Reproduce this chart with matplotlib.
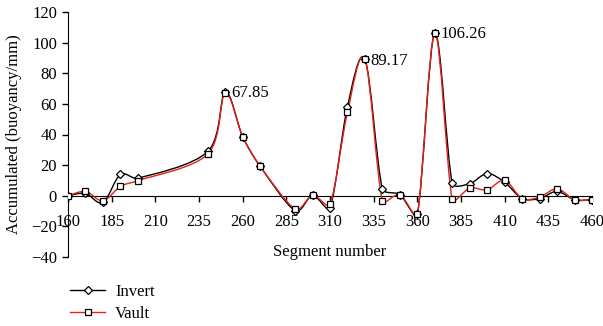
# Accumulated buoyancy per segment, invert vs vault
import numpy as np
import matplotlib
matplotlib.use('Agg')
import matplotlib.pyplot as plt
from matplotlib.path import Path
from matplotlib.patches import PathPatch

segments = [160, 170, 180, 190, 200, 240, 250, 260, 270, 290, 300, 310, 320, 330,
            340, 350, 360, 370, 380, 390, 400, 410, 420, 430, 440, 450, 460]
invert = [0, 1.5, -4.4, 13.9, 11.5, 28.9, 67.85, 38.6, 19.3, -9.7, 0.2, -7.7, 58.1,
          89.17, 4.6, 0.7, -11.8, 106.26, 8.3, 7.9, 14.5, 8.8, -1.8, -1.8, 2.8, -2.6, -2.6]
vault = [0, 2.8, -3.3, 6.1, 9.8, 27.2, 67.0, 38.6, 19.3, -8.6, 0.2, -5.5, 54.4,
         89.17, -3.3, 0.7, -11.8, 106.26, -2.2, 5.0, 3.9, 10.1, -1.8, -0.9, 4.6, -2.6, -2.6]
peak_labels = {250: '67.85', 330: '89.17', 370: '106.26'}
xticks = [160, 185, 210, 235, 260, 285, 310, 335, 360, 385, 410, 435, 460]
yticks = [-40, -20, 0, 20, 40, 60, 80, 100, 120]

plt.rcParams['font.family'] = ['Liberation Serif', 'DejaVu Serif']
plt.rcParams['font.size'] = 12
plt.rcParams['axes.unicode_minus'] = True

# pixels per data unit, used so the smoothing behaves like it does on screen
SX, SY = 524 / 300, 245 / 160


def smooth_path(x, y, k=0.35):
    # excel-like smoothed line: catmull-rom tangents, arms clamped to the segment length
    p = np.column_stack([np.asarray(x) * SX, np.asarray(y) * SY]).astype(float)
    n = len(p)
    tang = [(p[min(i + 1, n - 1)] - p[max(i - 1, 0)]) / 6 for i in range(n)]

    def arm(t, seg):
        L = np.hypot(*t)
        return t if L <= k * seg else t * (k * seg / L)

    verts = [p[0]]
    codes = [Path.MOVETO]
    for i in range(n - 1):
        seg = np.hypot(*(p[i + 1] - p[i]))
        verts += [p[i] + arm(tang[i], seg), p[i + 1] - arm(tang[i + 1], seg), p[i + 1]]
        codes += [Path.CURVE4] * 3
    verts = np.array(verts) / [SX, SY]
    return Path(verts, codes)


fig = plt.figure(figsize=(6.03, 3.26), dpi=100)
ax = fig.add_axes([68 / 603, 1 - 257 / 326, 524 / 603, 245 / 326])

red = '#e3201b'
ax.add_patch(PathPatch(smooth_path(segments, invert), fc='none', ec='black', lw=1.0, zorder=2))
ax.add_patch(PathPatch(smooth_path(segments, vault), fc='none', ec=red, lw=1.0, zorder=3))
ax.plot(segments, invert, ls='none', marker='D', ms=4.5, mfc='white', mec='black', mew=0.9, zorder=4)
ax.plot(segments, vault, ls='none', marker='s', ms=4, mfc='white', mec='black', mew=0.9, zorder=5)

for sx, txt in peak_labels.items():
    sy = invert[segments.index(sx)]
    ax.annotate(txt, (sx, sy), xytext=(4, -1), textcoords='offset points',
                ha='left', va='center', fontsize=12)

ax.set_xlim(160, 460)
ax.set_ylim(-40, 120)
ax.set_xticks(xticks)
ax.set_yticks(yticks)
ax.spines['top'].set_visible(False)
ax.spines['right'].set_visible(False)
ax.spines['bottom'].set_position(('data', 0))
ax.tick_params(axis='x', direction='out', length=4, pad=9, width=1)
ax.tick_params(axis='y', direction='out', length=4, pad=4, width=1)

ax.set_ylabel('Accumulated (buoyancy/mm)')
ax.yaxis.set_label_coords(-0.088, 0.5)
ax.set_xlabel('Segment number')
ax.xaxis.set_label_coords(0.5, 0.055)

h1, = ax.plot([], [], color='black', lw=1, marker='D', ms=4.5, mfc='white', mec='black', mew=0.9)
h2, = ax.plot([], [], color=red, lw=1, marker='s', ms=4, mfc='white', mec='black', mew=0.9)
fig.legend([h1, h2], ['Invert', 'Vault'], loc='upper left', frameon=False,
           bbox_to_anchor=(70 / 603, 1 - 284 / 326), borderpad=0, borderaxespad=0,
           handlelength=2.1, handletextpad=0.6, labelspacing=0.35, numpoints=1)

fig.savefig('out.png', dpi=100)
